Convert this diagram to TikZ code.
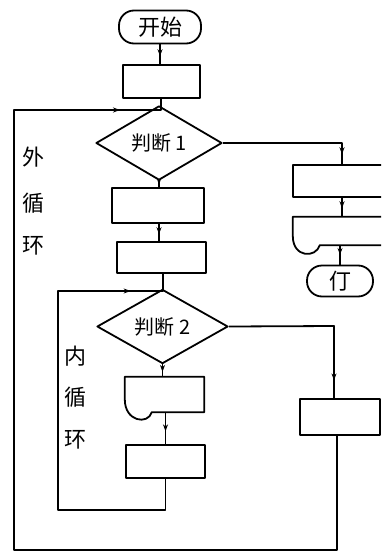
\documentclass[tikz,border=0pt]{standalone}
\usepackage{fontspec}
\newfontfamily\cjk{Noto Sans CJK SC}
\usetikzlibrary{shapes.geometric,arrows.meta,decorations.markings,calc}
\tikzset{
  ln/.style={line width=1.8pt,line join=round},
  box/.style={ln,draw,rectangle,inner sep=0pt},
  term/.style={ln,draw,rectangle,rounded corners=15pt,inner sep=0pt,font=\cjk\fontsize{22pt}{22pt}\selectfont},
  dia/.style={ln,draw,diamond,inner sep=0pt,font=\cjk\fontsize{20pt}{20pt}\selectfont},
  ghost/.style={draw=none,rectangle,inner sep=0pt},
  lab/.style={font=\cjk\fontsize{22pt}{22pt}\selectfont,inner sep=0pt},
  midarrow/.style={postaction={decorate},decoration={markings,mark=at position #1 with {\arrow{Stealth[length=7pt,width=5pt]}}}}
}
\begin{document}
\begin{tikzpicture}[x=1pt,y=-1pt]
\useasboundingbox (0,0) rectangle (381,554);
\fill[white] (0,0) rectangle (381,554);
\clip (0,0) rectangle (381,554);

% main column
\node[term,minimum width=82pt,minimum height=33pt] (start) at (160,27) {开始};
\node[box,minimum width=77pt,minimum height=33pt] (b1) at (161.5,81.5) {};
\coordinate (j1) at (161,110);
\node[dia,minimum width=126pt,minimum height=50pt] (d1) at (159,143) {判断 1};
\node[box,minimum width=92pt,minimum height=35pt] (b2) at (158,205.5) {};
\node[box,minimum width=89pt,minimum height=31pt] (b3) at (161.5,257.5) {};
\coordinate (j2) at (163,291);
\node[dia,minimum width=131pt,minimum height=51pt] (d2) at (162.5,326.5) {判断 2};
\node[ghost,minimum width=79pt,minimum height=35pt] (dm) at (164.5,394.5) {};
\node[box,minimum width=79pt,minimum height=33pt] (b5) at (165.5,461.5) {};

% right column
\node[box,minimum width=98pt,minimum height=32pt] (r1) at (342,181) {};
\node[ghost,minimum width=98pt,minimum height=28pt] (dr) at (342,231) {};
\node[term,minimum width=66pt,minimum height=31pt] (stop) at (340,281) {仃};
\node[box,minimum width=80pt,minimum height=36pt] (r3) at (340,417) {};

% document shapes
\draw[ln] (dm.north west) -- (dm.north east) -- (dm.south east) -- ($(dm.south west)+(27,0)$)
  .. controls +(-4,13) and +(0,22) .. ($(dm.west)+(0,5)$) -- cycle;
\draw[ln] (dr.north west) -- (dr.north east) -- (dr.south east) -- ($(dr.south west)+(27,0)$)
  .. controls +(-4,13) and +(0,22) .. ($(dr.west)+(0,5)$) -- cycle;

% connectors main column
\draw[ln,midarrow=0.6] (start.south) -- (start.south |- b1.north);
\draw[ln] (b1.south -| j1) -- (j1) -- (d1.north -| j1);
\draw[ln,midarrow=0.6] (d1.south) -- (d1.south |- b2.north);
\draw[ln,midarrow=0.6] (b2.south -| d1.south) -- (b3.north -| d1.south);
\draw[ln] (b3.south -| j2) -- (j2) -- (d2.north -| j2);
\draw[ln,midarrow=0.6] (d2.south) -- (d2.south |- dm.north);
\draw[ln,midarrow=0.6] (dm.south -| b5.north) -- (b5.north);

% inner loop
\coordinate (il1) at (58,510);
\draw[ln,midarrow=0.93] (b5.south) -- (b5.south |- il1) -- (il1) -- (il1 |- j2) -- (j2);

% outer loop
\coordinate (ol1) at (14,550);
\draw[ln,midarrow=0.96] (r3.south -| 337,0) -- (337,550) -- (ol1) -- (ol1 |- j1) -- (j1);

% branch from d1
\coordinate (c1) at (342,143);
\draw[ln,midarrow=0.93] (d1.east) -- (c1) -- (c1 |- r1.north);
\draw[ln,midarrow=0.55] (r1.south) -- (r1.south |- dr.north);
\draw[ln,midarrow=0.5] (dr.south -| stop.north) -- (stop.north);

% branch from d2
\coordinate (c2) at (334,326);
\draw[ln,midarrow=0.9] (d2.east) -- (c2) -- (c2 |- r3.north);

% labels
\node[lab] (o1) at (33,157) {外};
\node[lab] (o2) at (33,203) {循};
\node[lab] (o3) at (33,246) {环};
\node[lab] (i1) at (75,356) {内};
\node[lab] (i2) at (75,397) {循};
\node[lab] (i3) at (75,440) {环};
\end{tikzpicture}
\end{document}
